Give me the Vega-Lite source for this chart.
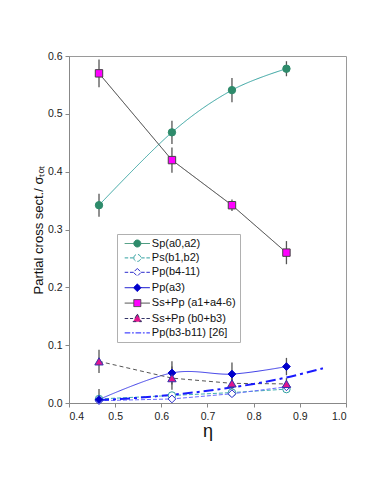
{
  "$schema": "https://vega.github.io/schema/vega-lite/v6.json",
  "width": 277,
  "height": 347,
  "autosize": {"type": "none"},
  "padding": {"left": 69, "top": 56, "right": 36, "bottom": 91},
  "background": "white",
  "config": {
    "view": {"stroke": "#9a9a9a", "strokeWidth": 1},
    "font": "Liberation Sans",
    "axis": {
      "labelFont": "Liberation Sans",
      "labelFontSize": 10.5,
      "labelColor": "#222",
      "tickColor": "#888",
      "domainColor": "#888",
      "tickSize": 4,
      "grid": false,
      "titleFont": "Liberation Sans",
      "titleFontWeight": "normal",
      "titleColor": "#111"
    },
    "legend": {
      "labelFont": "Liberation Sans",
      "labelFontSize": 11,
      "labelColor": "#111"
    }
  },
  "datasets": {
    "pts": [
      {"s": "Sp(a0,a2)", "eta": 0.465, "y": 0.342, "err": 0.02},
      {"s": "Sp(a0,a2)", "eta": 0.623, "y": 0.468, "err": 0.02},
      {"s": "Sp(a0,a2)", "eta": 0.753, "y": 0.541, "err": 0.021},
      {"s": "Sp(a0,a2)", "eta": 0.871, "y": 0.578, "err": 0.013},
      {"s": "Ps(b1,b2)", "eta": 0.465, "y": 0.007, "err": 0},
      {"s": "Ps(b1,b2)", "eta": 0.623, "y": 0.013, "err": 0},
      {"s": "Ps(b1,b2)", "eta": 0.753, "y": 0.018, "err": 0},
      {"s": "Ps(b1,b2)", "eta": 0.871, "y": 0.024, "err": 0},
      {"s": "Pp(b4-11)", "eta": 0.465, "y": 0.004, "err": 0},
      {"s": "Pp(b4-11)", "eta": 0.623, "y": 0.007, "err": 0},
      {"s": "Pp(b4-11)", "eta": 0.753, "y": 0.016, "err": 0},
      {"s": "Pp(b4-11)", "eta": 0.871, "y": 0.028, "err": 0},
      {"s": "Pp(a3)", "eta": 0.465, "y": 0.006, "err": 0.018},
      {"s": "Pp(a3)", "eta": 0.623, "y": 0.052, "err": 0.02},
      {"s": "Pp(a3)", "eta": 0.753, "y": 0.05, "err": 0.02},
      {"s": "Pp(a3)", "eta": 0.871, "y": 0.063, "err": 0.015},
      {"s": "Ss+Pp (a1+a4-6)", "eta": 0.465, "y": 0.57, "err": 0.024},
      {"s": "Ss+Pp (a1+a4-6)", "eta": 0.623, "y": 0.42, "err": 0.022},
      {"s": "Ss+Pp (a1+a4-6)", "eta": 0.753, "y": 0.342, "err": 0.01},
      {"s": "Ss+Pp (a1+a4-6)", "eta": 0.871, "y": 0.26, "err": 0.02},
      {"s": "Ss+Pp (b0+b3)", "eta": 0.465, "y": 0.072, "err": 0.02},
      {"s": "Ss+Pp (b0+b3)", "eta": 0.623, "y": 0.043, "err": 0.02},
      {"s": "Ss+Pp (b0+b3)", "eta": 0.753, "y": 0.034, "err": 0.02},
      {"s": "Ss+Pp (b0+b3)", "eta": 0.871, "y": 0.033, "err": 0.01}
    ],
    "ref": [
      {"s": "Pp(b3-b11) [26]", "eta": 0.465, "y": 0.005},
      {"s": "Pp(b3-b11) [26]", "eta": 0.55, "y": 0.009},
      {"s": "Pp(b3-b11) [26]", "eta": 0.62, "y": 0.014},
      {"s": "Pp(b3-b11) [26]", "eta": 0.7, "y": 0.021},
      {"s": "Pp(b3-b11) [26]", "eta": 0.8, "y": 0.033},
      {"s": "Pp(b3-b11) [26]", "eta": 0.87, "y": 0.044},
      {"s": "Pp(b3-b11) [26]", "eta": 0.95, "y": 0.06}
    ]
  },
  "encoding": {
    "x": {
      "field": "eta", "type": "quantitative",
      "scale": {"domain": [0.4, 1.0], "nice": false, "zero": false},
      "axis": {"title": "η", "titleFontSize": 18, "titlePadding": 1, "values": [0.4, 0.5, 0.6, 0.7, 0.8, 0.9, 1.0], "format": ".1f", "labelPadding": 4}
    },
    "y": {
      "field": "y", "type": "quantitative",
      "scale": {"domain": [0, 0.6], "nice": false},
      "axis": {"title": "Partial cross sect./ σₜₒₜ", "titleFontSize": 13, "titlePadding": 2, "values": [0, 0.1, 0.2, 0.3, 0.4, 0.5, 0.6], "format": ".1f", "labelPadding": 3}
    }
  },
  "layer": [
    {
      "data": {"name": "pts"},
      "transform": [{"filter": "datum.eta > 5"}],
      "mark": {"type": "point", "size": 49, "opacity": 1},
      "encoding": {
        "stroke": {"field": "s", "type": "nominal",
          "scale": {"domain": ["Sp(a0,a2)", "Ps(b1,b2)", "Pp(b4-11)", "Pp(a3)", "Ss+Pp (a1+a4-6)", "Ss+Pp (b0+b3)", "Pp(b3-b11) [26]"],
                    "range": ["#2e8b6b", "#30a0a0", "#2a2acc", "#0000cc", "#444444", "#333366", "#1a1aff"]},
          "legend": {"title": null, "orient": "none", "legendX": 48, "legendY": 178, "strokeColor": "#b0b0b0", "fillColor": "white", "padding": 4, "rowPadding": 2.4, "symbolSize": 49, "symbolOffset": 10.8, "labelOffset": 9, "symbolStrokeWidth": 1}},
        "fill": {"field": "s", "type": "nominal",
          "scale": {"domain": ["Sp(a0,a2)", "Ps(b1,b2)", "Pp(b4-11)", "Pp(a3)", "Ss+Pp (a1+a4-6)", "Ss+Pp (b0+b3)", "Pp(b3-b11) [26]"],
                    "range": ["#2e8b6b", "#ffffff", "#ffffff", "#0000cc", "#ff00ff", "#e0158f", "#ffffff"]},
          "legend": {"title": null, "orient": "none", "legendX": 48, "legendY": 178, "strokeColor": "#b0b0b0", "fillColor": "white", "padding": 4, "rowPadding": 2.4, "symbolSize": 49, "symbolOffset": 10.8, "labelOffset": 9}},
        "shape": {"field": "s", "type": "nominal",
          "scale": {"domain": ["Sp(a0,a2)", "Ps(b1,b2)", "Pp(b4-11)", "Pp(a3)", "Ss+Pp (a1+a4-6)", "Ss+Pp (b0+b3)", "Pp(b3-b11) [26]"],
                    "range": [
                      "M-3.6,0H-1M1,0H3.6M-1,0A1,1,0,1,1,1,0A1,1,0,1,1,-1,0Z",
                      "M-3.6,0H-2.6M-2.1,0H-1.1M1.1,0H2.1M2.6,0H3.6M-1,0A1,1,0,1,1,1,0A1,1,0,1,1,-1,0Z",
                      "M-3.6,0H-2.6M-2.1,0H-1.1M1.1,0H2.1M2.6,0H3.6M0,-1.1L1.1,0L0,1.1L-1.1,0Z",
                      "M-3.6,0H-1.1M1.1,0H3.6M0,-1.1L1.1,0L0,1.1L-1.1,0Z",
                      "M-3.6,0H-1M1,0H3.6M-1,-1H1V1H-1Z",
                      "M-3.6,0H-2.6M-2.1,0H-1.2M1.2,0H2.1M2.6,0H3.6M0,-1.3L1.2,0.9L-1.2,0.9Z",
                      "M-3.6,0H-2M-1.5,0H-1M-0.5,0H1.1M1.6,0H2.1M2.6,0H3.6"
                    ]},
          "legend": {"title": null, "orient": "none", "legendX": 48, "legendY": 178, "strokeColor": "#b0b0b0", "fillColor": "white", "padding": 4, "rowPadding": 2.4, "symbolSize": 49, "symbolOffset": 10.8, "labelOffset": 9}}
      }
    },
    {
      "data": {"name": "pts"},
      "transform": [{"filter": "datum.s === 'Sp(a0,a2)' || datum.s === 'Pp(a3)'"}],
      "mark": {"type": "line", "interpolate": "cardinal", "strokeWidth": 1},
      "encoding": {
        "color": {"field": "s", "type": "nominal", "legend": null,
          "scale": {"domain": ["Sp(a0,a2)", "Ps(b1,b2)", "Pp(b4-11)", "Pp(a3)", "Ss+Pp (a1+a4-6)", "Ss+Pp (b0+b3)", "Pp(b3-b11) [26]"],
                    "range": ["#34a3a0", "#40b0b0", "#6a6aff", "#4040e8", "#333333", "#555555", "#1a1aff"]}},
        "strokeDash": {"field": "s", "type": "nominal", "legend": null,
          "scale": {"domain": ["Sp(a0,a2)", "Ps(b1,b2)", "Pp(b4-11)", "Pp(a3)", "Ss+Pp (a1+a4-6)", "Ss+Pp (b0+b3)", "Pp(b3-b11) [26]"],
                    "range": [[1, 0], [4, 2], [4, 2], [1, 0], [1, 0], [4, 3], [10, 4, 3, 4]]}}
      }
    },
    {
      "data": {"name": "pts"},
      "transform": [{"filter": "datum.s !== 'Sp(a0,a2)' && datum.s !== 'Pp(a3)'"}],
      "mark": {"type": "line", "strokeWidth": 1},
      "encoding": {
        "color": {"field": "s", "type": "nominal", "legend": null},
        "strokeDash": {"field": "s", "type": "nominal", "legend": null}
      }
    },
    {
      "data": {"name": "ref"},
      "mark": {"type": "line", "interpolate": "monotone", "strokeWidth": 2},
      "encoding": {
        "color": {"field": "s", "type": "nominal", "legend": null},
        "strokeDash": {"field": "s", "type": "nominal", "legend": null}
      }
    },
    {
      "data": {"name": "pts"},
      "transform": [{"filter": "datum.err > 0"}],
      "mark": {"type": "errorbar", "color": "#555", "thickness": 1.3, "clip": true},
      "encoding": {
        "y": {"field": "y", "type": "quantitative"},
        "yError": {"field": "err"}
      }
    },
    {
      "data": {"name": "pts"},
      "transform": [{"filter": "datum.s === 'Sp(a0,a2)' || datum.s === 'Ps(b1,b2)'"}],
      "mark": {"type": "point", "shape": "circle", "size": 55, "opacity": 1, "strokeWidth": 1},
      "encoding": {
        "stroke": {"field": "s", "type": "nominal"},
        "fill": {"field": "s", "type": "nominal"}
      }
    },
    {
      "data": {"name": "pts"},
      "transform": [{"filter": "datum.s === 'Pp(b4-11)' || datum.s === 'Pp(a3)'"}],
      "mark": {"type": "point", "shape": "diamond", "size": 60, "opacity": 1, "strokeWidth": 1},
      "encoding": {
        "stroke": {"field": "s", "type": "nominal"},
        "fill": {"field": "s", "type": "nominal"}
      }
    },
    {
      "data": {"name": "pts"},
      "transform": [{"filter": "datum.s === 'Ss+Pp (a1+a4-6)'"}],
      "mark": {"type": "point", "shape": "square", "size": 55, "opacity": 1, "strokeWidth": 1},
      "encoding": {
        "stroke": {"field": "s", "type": "nominal"},
        "fill": {"field": "s", "type": "nominal"}
      }
    },
    {
      "data": {"name": "pts"},
      "transform": [{"filter": "datum.s === 'Ss+Pp (b0+b3)'"}],
      "mark": {"type": "point", "shape": "triangle-up", "size": 70, "opacity": 1, "strokeWidth": 1},
      "encoding": {
        "stroke": {"value": "#3333aa"},
        "fill": {"field": "s", "type": "nominal"}
      }
    }
  ]
}
